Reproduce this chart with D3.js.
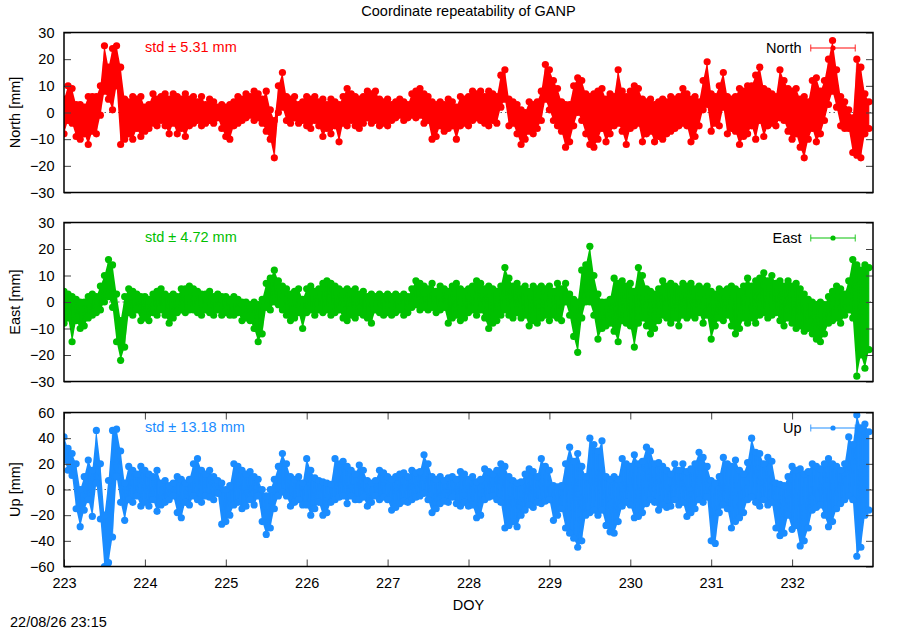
<!DOCTYPE html>
<html>
<head>
<meta charset="utf-8">
<script src="https://cdn.jsdelivr.net/npm/d3@7/dist/d3.min.js"></script>
<style>
body { margin: 0; background: #fff; }
svg { font-family: "Liberation Sans", Arial, sans-serif; }
</style>
</head>
<body>
<svg></svg>
<script>

// values: for every 0.05 day bin the top and the bottom of the scatter
var startDoy = 223
var binDays = 0.05
var doyTicks = [223, 224, 225, 226, 227, 228, 229, 230, 231, 232]
var neTicks = [-30, -20, -10, 0, 10, 20, 30]
var upTicks = [-60, -40, -20, 0, 20, 40, 60]
var components = ["North", "East", "Up"]
var stdValues = [5.31, 4.72, 13.18]

var northHi = [
  5, 10, 9, 3, 3, 2, 6, 6, 6, 10,
  25, 17, 24, 25, 17, 5, 4, 6, 5, 6,
  2, 3, 7, 5, 6, 7, 5, 7, 6, 5,
  7, 5, 6, 4, 6, 3, 5, 4, 2, 3,
  2, 3, 4, 6, 5, 7, 6, 8, 7, 5,
  8, 1, -3, 10, 15, 6, 5, 6, 3, 4,
  6, 5, 6, 4, 5, 3, 5, 4, 3, 6,
  9, 7, 6, 5, 6, 8, 7, 8, 5, 4,
  5, 3, 4, 5, 4, 3, 7, 8, 9, 7,
  6, 4, 3, 4, 3, 5, 4, 2, 6, 5,
  6, 8, 7, 8, 6, 8, 7, 6, 14, 16,
  5, 4, 3, 1, 0, 4, 3, 4, 8, 18,
  16, 12, 9, 4, 3, 3, 10, 13, 12, 7,
  6, 7, 8, 9, 5, 7, 6, 16, 8, 6,
  8, 10, 9, 5, 4, 5, 3, 4, 5, 4,
  6, 5, 6, 9, 7, 5, 6, 4, 12, 19,
  7, 6, 10, 15, 6, 5, 6, 9, 8, 10,
  10, 14, 17, 9, 8, 7, 6, 16, 12, 9,
  8, 9, 5, 6, 4, 12, 13, 8, 12, 20,
  27, 16, 6, 4, 1, -2, 20, 17, 7, 4]
var northLo = [
  -8, -3, -4, -9, -10, -8, -12, -7, -8, -1,
  8, 5, 1, 10, -12, -10, -8, -10, -6, -9,
  -7, -6, -4, -5, -3, -5, -8, -4, -8, -6,
  -9, -5, -4, -3, -5, -4, -3, -4, -2, -6,
  -9, -10, -5, -4, -3, -2, -1, -3, -2, -4,
  -7, -10, -17, 0, 2, -3, -4, -2, -4, -3,
  -5, -6, -3, -5, -9, -6, -8, -5, -11, -4,
  -5, -3, -5, -6, -4, -2, -4, -3, -5, -4,
  -5, -3, -2, -1, -3, -2, -1, -2, -1, -4,
  -3, -10, -9, -5, -7, -6, -5, -10, -5, -4,
  -5, -3, -2, -3, -4, -5, -3, -4, 2, 5,
  -5, -4, -8, -12, -10, -7, -8, -6, -3, 5,
  1, -3, -5, -7, -13, -11, -5, 0, -3, -8,
  -12, -13, -10, -6, -11, -8, -5, -4, -7, -12,
  -6, -5, -4, -11, -8, -7, -11, -9, -10, -8,
  -7, -6, -5, -4, -5, -11, -9, -5, 1, 3,
  -7, -4, -5, 2, -8, -6, -7, -12, -9, -8,
  -5, -10, -3, -9, -5, -4, -5, -2, -3, -7,
  -10, -8, -13, -17, -10, -6, -11, -8, -3, 3,
  8, 2, -5, -6, -6, -15, -16, -17, -8, -6]

var eastHi = [
  4, 3, 2, 1, 0, 0, 2, 3, 2, 6,
  10, 16, 14, 3, -7, 2, 5, 4, 3, 2,
  2, 1, 3, 4, 5, 3, 2, 3, 2, 5,
  5, 6, 5, 4, 3, 3, 4, 2, 3, 2,
  2, 1, 2, 1, 0, 0, -1, 0, -1, 1,
  7, 9, 12, 8, 6, 5, 3, 4, 5, 1,
  5, 6, 4, 5, 7, 8, 7, 6, 5, 4,
  5, 4, 5, 3, 4, 2, 3, 2, 3, 2,
  3, 2, 3, 2, 3, 2, 5, 8, 7, 6,
  5, 7, 4, 6, 5, 4, 6, 7, 5, 4,
  5, 6, 8, 7, 5, 6, 5, 4, 6, 13,
  9, 6, 7, 5, 6, 4, 6, 5, 6, 5,
  6, 4, 7, 5, 7, 3, 1, 0, 12, 14,
  21, 10, 3, 0, 0, 1, 9, 7, 8, 6,
  7, 4, 13, 10, 5, 4, 3, 5, 8, 6,
  7, 6, 5, 7, 6, 7, 5, 6, 5, 6,
  4, 3, 5, 4, 5, 6, 5, 4, 6, 9,
  6, 8, 9, 11, 8, 10, 7, 8, 6, 8,
  6, 7, 5, 3, 1, 0, -1, 0, -1, 2,
  4, 6, 5, 3, 8, 16, 14, 12, 14, 13]
var eastLo = [
  -8, -6, -15, -7, -10, -9, -6, -5, -4, -3,
  0, 2, -2, -15, -22, -17, -4, -5, -3, -7,
  -6, -7, -4, -5, -3, -5, -8, -6, -4, -3,
  -4, -3, -3, -4, -5, -3, -4, -5, -3, -5,
  -4, -5, -5, -4, -7, -6, -7, -10, -15, -12,
  -2, -3, 0, -1, -3, -5, -7, -6, -4, -10,
  -4, -3, -5, -3, -4, -3, -5, -4, -3, -6,
  -7, -5, -6, -4, -5, -6, -8, -3, -4, -5,
  -4, -5, -4, -3, -5, -4, -2, -1, -3, -2,
  -3, -2, -4, -3, -2, -8, -6, -5, -7, -6,
  -4, -3, -5, -3, -6, -10, -8, -7, -5, -3,
  -5, -6, -4, -6, -5, -9, -7, -8, -6, -5,
  -7, -5, -6, -7, 0, -5, -13, -19, -6, 0,
  0, -5, -14, -10, -9, -8, -11, -15, -7, -8,
  -9, -17, -8, -6, -9, -12, -10, -7, -5, -6,
  -8, -6, -9, -5, -6, -5, -6, -4, -8, -5,
  -14, -9, -6, -7, -5, -9, -12, -10, -6, -8,
  -6, -8, -5, -4, -6, -5, -4, -7, -9, -6,
  -8, -10, -9, -11, -10, -12, -14, -15, -12, -8,
  -7, -6, -8, -5, -3, -6, -28, -20, -25, -18]

var upHi = [
  41, 32, 28, 20, 0, 10, 23, 15, 46, 20,
  -20, 7, 46, 47, 30, 5, 18, 15, 12, 18,
  15, 12, 10, 15, 5, 7, 3, 5, 10, 8,
  5, 8, 20, 24, 15, 12, 15, 10, 7, 5,
  0, 3, 20, 18, 15, 12, 14, 10, 8, 0,
  -5, 0, 8, 18, 28, 20, 10, 8, 10, 5,
  24, 15, 9, 7, 6, 5, 4, 24, 20, 22,
  18, 15, 12, 19, 15, 7, 5, 7, 15, 13,
  10, 8, 10, 12, 13, 10, 15, 13, 14, 27,
  20, 10, 8, 10, 7, 9, 10, 8, 14, 12,
  8, 10, 6, 8, 16, 14, 12, 15, 20, 18,
  10, 7, 5, 6, 12, 16, 14, 10, 24, 18,
  15, 3, 2, 3, 20, 33, 22, 28, 18, 10,
  40, 35, 30, 38, 10, 8, 10, 8, 24, 20,
  18, 27, 20, 22, 33, 30, 20, 21, 18, 15,
  12, 20, 15, 20, 14, 16, 20, 29, 25, 18,
  7, 5, 10, 25, 20, 18, 23, 15, 12, 21,
  40, 29, 28, 20, 25, 22, 5, 4, 3, 10,
  18, 15, 16, 12, 14, 20, 18, 16, 20, 24,
  20, 18, 15, 20, 41, 35, 58, 48, 51, 45]
var upLo = [
  23, 15, 11, -15, -29, -16, -8, -21, 5, -23,
  -60, -57, -37, 10, -10, -24, -8, -10, -5, -13,
  -10, -13, -8, -17, -12, -10, -8, -5, -18, -22,
  -10, -12, -5, -8, -10, -5, -6, -8, -3, -27,
  -25, -20, -12, -10, -15, -13, -8, -12, -5, -25,
  -35, -30, -15, -5, -2, -5, -13, -10, -8, -12,
  -12, -20, -15, -10, -20, -18, -10, -8, -6, -5,
  -11, -5, -8, -8, -6, -13, -10, -5, -8, -6,
  -8, -16, -14, -11, -9, -10, -8, -6, -5, -3,
  -8, -18, -15, -11, -9, -10, -6, -11, -13, -10,
  -13, -12, -22, -20, -8, -6, -5, -8, -10, -30,
  -28, -25, -29, -20, -16, -12, -14, -10, -11, -9,
  -8, -24, -20, -15, -30, -34, -38, -45, -40, -20,
  -18, -16, -20, -16, -28, -33, -34, -25, -13, -10,
  -12, -22, -21, -18, -11, -8, -10, -16, -12, -14,
  -13, -8, -12, -10, -21, -18, -15, -8, -10, -6,
  -40, -42, -18, -12, -15, -30, -25, -22, -18, -8,
  -6, -10, -13, -8, -12, -10, -30, -36, -34, -20,
  -31, -28, -44, -40, -30, -16, -14, -12, -20, -29,
  -25, -15, -11, -8, -5, -8, -52, -45, -20, -16]


var svg = d3.select("svg")
    .attr("width", 900)
    .attr("height", 630)

var left = 64, right = 873

var x = d3.scaleLinear().domain([223, 233]).range([left, right])

// one entry per panel, styles kept apart from the values
var panels = [
    {name: components[0], hi: northHi, lo: northLo, std: stdValues[0], ticks: neTicks, dom: [-30, 30], top: 32.5, bottom: 192.5, colour: "#ff0000", xticks: false},
    {name: components[1], hi: eastHi, lo: eastLo, std: stdValues[1], ticks: neTicks, dom: [-30, 30], top: 222.5, bottom: 381.5, colour: "#00c000", xticks: false},
    {name: components[2], hi: upHi, lo: upLo, std: stdValues[2], ticks: upTicks, dom: [-60, 60], top: 412.5, bottom: 566.5, colour: "#1a8cff", xticks: true}
]

// title
svg.append("text")
    .attr("x", (left + right) / 2)
    .attr("y", 15.5)
    .attr("text-anchor", "middle")
    .style("font-size", "14.5px")
    .text("Coordinate repeatability of GANP")

function drawPanel(p, i) {

    var y = d3.scaleLinear().domain(p.dom).range([p.bottom, p.top])
    var g = svg.append("g")

    // clip data to the frame
    g.append("clipPath").attr("id", "clip" + i)
        .append("rect")
        .attr("x", left).attr("y", p.top)
        .attr("width", right - left).attr("height", p.bottom - p.top)

    // zero axis, dotted
    g.append("line")
        .attr("x1", left).attr("x2", right)
        .attr("y1", y(0)).attr("y2", y(0))
        .style("stroke", "#000")
        .style("stroke-opacity", 0.6)
        .style("stroke-dasharray", "1.5,3")

    // one record per bin with the top and bottom of the scatter
    var bins = p.hi.map(function (h, k) {
        return {doy: startDoy + k * binDays, hi: h, lo: p.lo[k]}
    })

    // the points, top then bottom of each bin, as gnuplot joins them
    var pts = []
    bins.forEach(function (b) {
        pts.push({doy: b.doy, v: b.hi})
        pts.push({doy: b.doy, v: b.lo})
    })

    var data = g.append("g").attr("clip-path", "url(#clip" + i + ")")

    // the dense scatter between top and bottom is solid colour
    var band = d3.area()
        .x(function (d) { return x(d.doy) })
        .y0(function (d) { return y(d.lo) })
        .y1(function (d) { return y(d.hi) })

    data.append("path")
        .datum(bins)
        .attr("d", band)
        .style("fill", p.colour)

    var line = d3.line()
        .x(function (d) { return x(d.doy) })
        .y(function (d) { return y(d.v) })

    data.append("path")
        .datum(pts)
        .attr("d", line)
        .style("fill", "none")
        .style("stroke", p.colour)
        .style("stroke-opacity", 0.55)
        .style("stroke-width", 1.2)

    data.selectAll("circle")
        .data(pts)
        .enter().append("circle")
        .attr("cx", function (d) { return x(d.doy) })
        .attr("cy", function (d) { return y(d.v) })
        .attr("r", 3.6)
        .style("fill", p.colour)

    // y axes, ticks inward on both sides
    var yl = g.append("g")
        .attr("transform", "translate(" + left + ",0)")
        .call(d3.axisLeft(y).tickValues(p.ticks).tickSizeInner(-7).tickSizeOuter(0).tickPadding(9.5))
    var yr = g.append("g")
        .attr("transform", "translate(" + right + ",0)")
        .call(d3.axisRight(y).tickValues(p.ticks).tickSizeInner(-7).tickSizeOuter(0).tickFormat(""))

    var axes = [yl, yr]

    if (p.xticks) {
        var xb = g.append("g")
            .attr("transform", "translate(0," + p.bottom + ")")
            .call(d3.axisBottom(x).tickValues(doyTicks).tickSizeInner(-7).tickSizeOuter(0).tickPadding(11).tickFormat(d3.format("d")))
        var xt = g.append("g")
            .attr("transform", "translate(0," + p.top + ")")
            .call(d3.axisTop(x).tickValues(doyTicks).tickSizeInner(-7).tickSizeOuter(0).tickFormat(""))
        axes.push(xb, xt)
    }

    axes.forEach(function (a) {
        a.select(".domain").remove()
        a.selectAll("line").style("stroke", "#444")
        a.selectAll("text").style("font-size", "14.5px").style("fill", "#000")
            .style("font-family", "'Liberation Sans', Arial, sans-serif")
    })

    // frame
    g.append("rect")
        .attr("x", left).attr("y", p.top)
        .attr("width", right - left).attr("height", p.bottom - p.top)
        .style("fill", "none")
        .style("stroke", "#000")
        .style("stroke-width", 1.5)

    // y label
    g.append("text")
        .attr("transform", "translate(19.5," + ((p.top + p.bottom) / 2) + ") rotate(-90)")
        .attr("text-anchor", "middle")
        .style("font-size", "14.5px")
        .text(p.name + " [mm]")

    // std label
    g.append("text")
        .attr("x", 145)
        .attr("y", p.top + 19.5)
        .style("font-size", "14.5px")
        .style("fill", p.colour)
        .text("std \u00b1 " + p.std.toFixed(2) + " mm")

    // legend with errorbar sample
    var ly = p.top + 15.5
    g.append("text")
        .attr("x", 801.5)
        .attr("y", p.top + 20.5)
        .attr("text-anchor", "end")
        .style("font-size", "14.5px")
        .text(p.name)

    var leg = g.append("g")
        .style("stroke", p.colour)
        .style("stroke-opacity", 0.65)
        .style("stroke-width", 1.3)
    leg.append("line").attr("x1", 810.7).attr("x2", 855.3).attr("y1", ly).attr("y2", ly)
    leg.append("line").attr("x1", 810.7).attr("x2", 810.7).attr("y1", ly - 3.5).attr("y2", ly + 3.5)
    leg.append("line").attr("x1", 855.3).attr("x2", 855.3).attr("y1", ly - 3.5).attr("y2", ly + 3.5)
    g.append("circle")
        .attr("cx", 833).attr("cy", ly).attr("r", 2.6)
        .style("fill", p.colour)
}

panels.forEach(drawPanel)

// x label and time stamp
svg.append("text")
    .attr("x", (left + right) / 2)
    .attr("y", 610)
    .attr("text-anchor", "middle")
    .style("font-size", "14.5px")
    .text("DOY")

svg.append("text")
    .attr("x", 10)
    .attr("y", 627)
    .style("font-size", "14.5px")
    .text("22/08/26 23:15")

</script>
</body>
</html>
